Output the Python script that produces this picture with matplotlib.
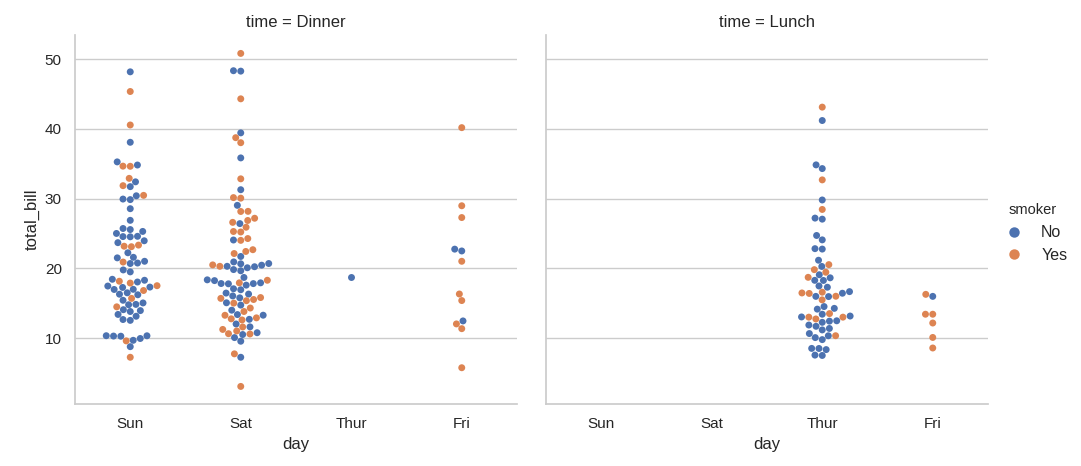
import matplotlib
matplotlib.use('Agg')
import matplotlib.pyplot as plt
import seaborn as sns
import pandas as pd

# total_bill values, split by day / time / smoker
sun_dinner_no = [16.99, 10.34, 21.01, 23.68, 24.59, 25.29, 8.77, 26.88, 15.04, 14.78,
                 10.27, 35.26, 15.42, 18.43, 14.83, 21.58, 10.33, 16.29, 16.97,
                 17.46, 13.94, 9.68, 30.4, 18.29, 22.23, 32.4, 28.55, 18.04, 12.54,
                 10.29, 34.81, 9.94, 25.56, 19.49,
                 38.07, 23.95, 25.71, 17.31, 29.93,
                 14.07, 13.13, 17.26, 24.55, 19.77, 29.85, 48.17, 25.0, 13.39, 16.49,
                 21.5, 12.66, 16.21, 13.81,
                 24.52, 20.76, 31.71, 20.69]
sun_dinner_yes = [17.51, 7.25, 31.85, 16.82, 32.9, 17.89, 14.48, 9.6, 34.63, 34.65,
                  23.33, 45.35, 23.17, 40.55, 20.9, 30.46, 18.15, 23.1, 15.69]
sat_dinner_no = [20.65, 17.92, 20.29, 15.77, 39.42, 19.82, 17.81, 13.37, 12.69, 21.7,
                 19.65, 9.55, 18.35, 15.06, 20.69, 17.78, 24.06, 16.31, 16.93, 18.69,
                 31.27, 16.04,
                 26.41, 48.27, 17.59, 20.08, 16.45, 20.23, 12.02, 17.07, 14.73, 10.51,
                 20.92, 18.24, 14.0, 7.25, 48.33,
                 20.45, 13.28, 11.61, 10.77, 10.07, 35.83, 29.03, 17.82]
sat_dinner_yes = [38.01, 11.24, 20.29, 13.81, 11.02, 18.29, 3.07, 15.01, 26.86, 25.28,
                  17.92, 44.3, 22.42, 15.36, 20.49, 25.21, 14.31,
                  10.59, 10.63, 50.81, 15.81,
                  26.59, 38.73, 24.27, 12.76, 30.06, 25.89, 13.27, 28.17, 12.9, 28.15,
                  11.59, 7.74, 30.14,
                  22.12, 24.01, 15.69, 15.53, 12.6, 32.83, 27.18, 22.67]
thur_dinner_no = [18.78]
thur_lunch_no = [27.2, 22.76, 17.29, 16.66, 10.07, 15.98, 34.83, 13.03, 18.28, 24.71,
                 21.16,
                 10.65, 12.43, 24.08, 11.69, 13.42, 14.26, 15.95, 12.48, 29.8, 8.52,
                 14.52, 11.38, 22.82, 19.08, 20.27, 11.17, 12.26, 18.26, 8.51, 10.33,
                 14.15,
                 13.16, 17.47, 34.3, 41.19, 27.05, 16.43, 8.35, 18.64, 11.87, 9.78,
                 7.51, 7.56]
thur_lunch_yes = [19.44, 32.68, 16.0, 19.81, 28.44, 15.48, 16.58, 10.34, 43.11, 13.0,
                  13.51, 18.71, 12.74, 13.0, 16.4, 20.53, 16.47]
fri_dinner_no = [22.49, 22.75, 12.46]
fri_dinner_yes = [28.97, 5.75, 16.32, 40.17, 27.28, 12.03, 21.01, 11.35, 15.38]
fri_lunch_no = [15.98]
fri_lunch_yes = [12.16, 13.42, 8.58, 13.42, 16.27, 10.09]

day_order = ['Sun', 'Sat', 'Thur', 'Fri']
time_order = ['Dinner', 'Lunch']
smoker_order = ['No', 'Yes']

groups = [
    ('Sun', 'Dinner', 'No', sun_dinner_no),
    ('Sun', 'Dinner', 'Yes', sun_dinner_yes),
    ('Sat', 'Dinner', 'No', sat_dinner_no),
    ('Sat', 'Dinner', 'Yes', sat_dinner_yes),
    ('Thur', 'Dinner', 'No', thur_dinner_no),
    ('Thur', 'Lunch', 'No', thur_lunch_no),
    ('Thur', 'Lunch', 'Yes', thur_lunch_yes),
    ('Fri', 'Dinner', 'No', fri_dinner_no),
    ('Fri', 'Dinner', 'Yes', fri_dinner_yes),
    ('Fri', 'Lunch', 'No', fri_lunch_no),
    ('Fri', 'Lunch', 'Yes', fri_lunch_yes),
]

rows = []
for day, tm, smk, vals in groups:
    for v in vals:
        rows.append({'total_bill': v, 'day': day, 'time': tm, 'smoker': smk})
tips = pd.DataFrame(rows)

sns.set_theme(style='whitegrid')
plt.rcParams['font.family'] = ['Liberation Sans', 'DejaVu Sans']

g = sns.catplot(data=tips, kind='swarm', x='day', y='total_bill', hue='smoker',
                col='time', order=day_order, col_order=time_order,
                hue_order=smoker_order, height=5, aspect=1)
g.set(ylim=(0.55, 53.45))

# bigger legend markers, smaller title like the reference
leg = g._legend
for h in leg.legend_handles:
    if hasattr(h, 'set_markersize'):
        h.set_markersize(7.5)
    elif hasattr(h, 'set_sizes'):
        h.set_sizes([56])
leg.get_title().set_fontsize(10.5)
for t in leg.get_texts():
    t.set_fontsize(11.5)

fig = g.figure
fig.set_size_inches(10.81, 4.66)
fig.subplots_adjust(left=75/1081, right=988/1081, bottom=1-404/466,
                    top=1-35/466, wspace=29/442)
fig.savefig('out.png', dpi=100)
